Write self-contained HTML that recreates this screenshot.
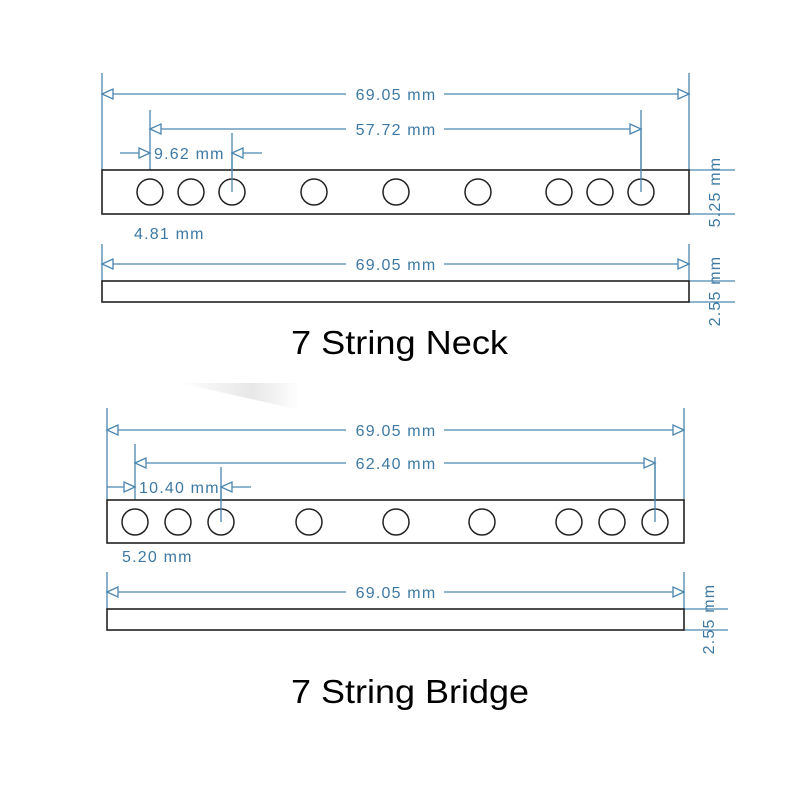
<!DOCTYPE html>
<html><head><meta charset="utf-8"><style>html,body{margin:0;padding:0;background:#fff}svg{display:block}</style></head>
<body>
<svg width="800" height="800" viewBox="0 0 800 800" xmlns="http://www.w3.org/2000/svg">
<defs>
<linearGradient id="sm" x1="0" y1="0" x2="1" y2="0">
<stop offset="0" stop-color="#fff"/><stop offset="0.6" stop-color="#ddd"/><stop offset="1" stop-color="#fff"/>
</linearGradient>
</defs>
<polygon points="180,383 300,383 300,410" fill="url(#sm)" opacity="0.7"/>
<g stroke="#4a86b0" stroke-width="1.3" fill="none">
<line x1="102" y1="73" x2="102" y2="170"/><line x1="689" y1="73" x2="689" y2="170"/>
<line x1="150" y1="110" x2="150" y2="170"/><line x1="641" y1="110" x2="641" y2="192"/>
<line x1="232" y1="133" x2="232" y2="192"/>
<line x1="102" y1="94" x2="689" y2="94"/>
<line x1="150" y1="129" x2="641" y2="129"/>
<line x1="120" y1="153" x2="150" y2="153"/><line x1="232" y1="153" x2="262" y2="153"/>
<line x1="689" y1="170" x2="735" y2="170"/><line x1="689" y1="214" x2="735" y2="214"/>
<line x1="102" y1="244" x2="102" y2="281"/><line x1="689" y1="244" x2="689" y2="281"/>
<line x1="102" y1="264" x2="689" y2="264"/>
<line x1="689" y1="281" x2="735" y2="281"/><line x1="689" y1="302" x2="735" y2="302"/>
<line x1="107" y1="408" x2="107" y2="500"/><line x1="684" y1="408" x2="684" y2="500"/>
<line x1="135" y1="444" x2="135" y2="500"/><line x1="655" y1="457" x2="655" y2="522"/>
<line x1="221" y1="467" x2="221" y2="522"/>
<line x1="107" y1="430" x2="684" y2="430"/>
<line x1="135" y1="463" x2="655" y2="463"/>
<line x1="107" y1="487" x2="135" y2="487"/><line x1="221" y1="487" x2="251" y2="487"/>
<line x1="107" y1="572" x2="107" y2="609"/><line x1="684" y1="572" x2="684" y2="609"/>
<line x1="107" y1="592" x2="684" y2="592"/>
<line x1="684" y1="609" x2="728" y2="609"/><line x1="684" y1="630" x2="728" y2="630"/>
</g>
<g stroke="#4a86b0" stroke-width="1.3" fill="#fff">
<polygon points="102,94 113,89 113,99"/><polygon points="689,94 678,89 678,99"/>
<polygon points="150,129 161,124 161,134"/><polygon points="641,129 630,124 630,134"/>
<polygon points="150,153 139,148 139,158"/><polygon points="232,153 243,148 243,158"/>
<polygon points="102,264 113,259 113,269"/><polygon points="689,264 678,259 678,269"/>
<polygon points="107,430 118,425 118,435"/><polygon points="684,430 673,425 673,435"/>
<polygon points="135,463 146,458 146,468"/><polygon points="655,463 644,458 644,468"/>
<polygon points="135,487 124,482 124,492"/><polygon points="221,487 232,482 232,492"/>
<polygon points="107,592 118,587 118,597"/><polygon points="684,592 673,587 673,597"/>
</g>
<g fill="#fff">
<rect x="346" y="84" width="98" height="20"/><rect x="346" y="119" width="98" height="20"/>
<rect x="346" y="254" width="98" height="20"/>
<rect x="346" y="420" width="98" height="20"/><rect x="346" y="453" width="98" height="20"/>
<rect x="346" y="582" width="98" height="20"/>
</g>
<g stroke="#222" stroke-width="1.6" fill="#fff">
<rect x="102" y="170" width="587" height="44"/>
<rect x="102" y="281" width="587" height="21"/>
<rect x="107" y="500" width="577" height="43"/>
<rect x="107" y="609" width="577" height="21"/>
</g>
<g stroke="#222" stroke-width="1.5" fill="none">
<circle cx="150" cy="192" r="13"/><circle cx="191" cy="192" r="13"/><circle cx="232" cy="192" r="13"/>
<circle cx="314" cy="192" r="13"/><circle cx="396" cy="192" r="13"/><circle cx="478" cy="192" r="13"/>
<circle cx="559" cy="192" r="13"/><circle cx="600" cy="192" r="13"/><circle cx="641" cy="192" r="13"/>
<circle cx="135" cy="522" r="13"/><circle cx="178" cy="522" r="13"/><circle cx="221" cy="522" r="13"/>
<circle cx="309" cy="522" r="13"/><circle cx="396" cy="522" r="13"/><circle cx="482" cy="522" r="13"/>
<circle cx="569" cy="522" r="13"/><circle cx="612" cy="522" r="13"/><circle cx="655" cy="522" r="13"/>
</g>
<g stroke="#4a86b0" stroke-width="1.3">
<line x1="641" y1="129" x2="641" y2="192"/><line x1="232" y1="153" x2="232" y2="192"/>
<line x1="655" y1="463" x2="655" y2="522"/><line x1="221" y1="487" x2="221" y2="522"/>
</g>
<g fill="#3d79a3" font-family="Liberation Sans, sans-serif" font-size="16" letter-spacing="1.2">
<text x="396" y="100" text-anchor="middle">69.05 mm</text>
<text x="396" y="135" text-anchor="middle">57.72 mm</text>
<text x="154" y="159">9.62 mm</text>
<text x="134" y="239">4.81 mm</text>
<text x="396" y="270" text-anchor="middle">69.05 mm</text>
<text transform="translate(720,192) rotate(-90)" text-anchor="middle">5.25 mm</text>
<text transform="translate(720,291) rotate(-90)" text-anchor="middle">2.55 mm</text>
<text x="396" y="436" text-anchor="middle">69.05 mm</text>
<text x="396" y="469" text-anchor="middle">62.40 mm</text>
<text x="139" y="493">10.40 mm</text>
<text x="122" y="562">5.20 mm</text>
<text x="396" y="598" text-anchor="middle">69.05 mm</text>
<text transform="translate(714,619) rotate(-90)" text-anchor="middle">2.55 mm</text>
</g>
<g fill="#000" font-family="Liberation Sans, sans-serif" font-size="33">
<text x="291" y="354" textLength="217" lengthAdjust="spacingAndGlyphs">7 String Neck</text>
<text x="291" y="703" textLength="238" lengthAdjust="spacingAndGlyphs">7 String Bridge</text>
</g>
</svg>
</body></html>
